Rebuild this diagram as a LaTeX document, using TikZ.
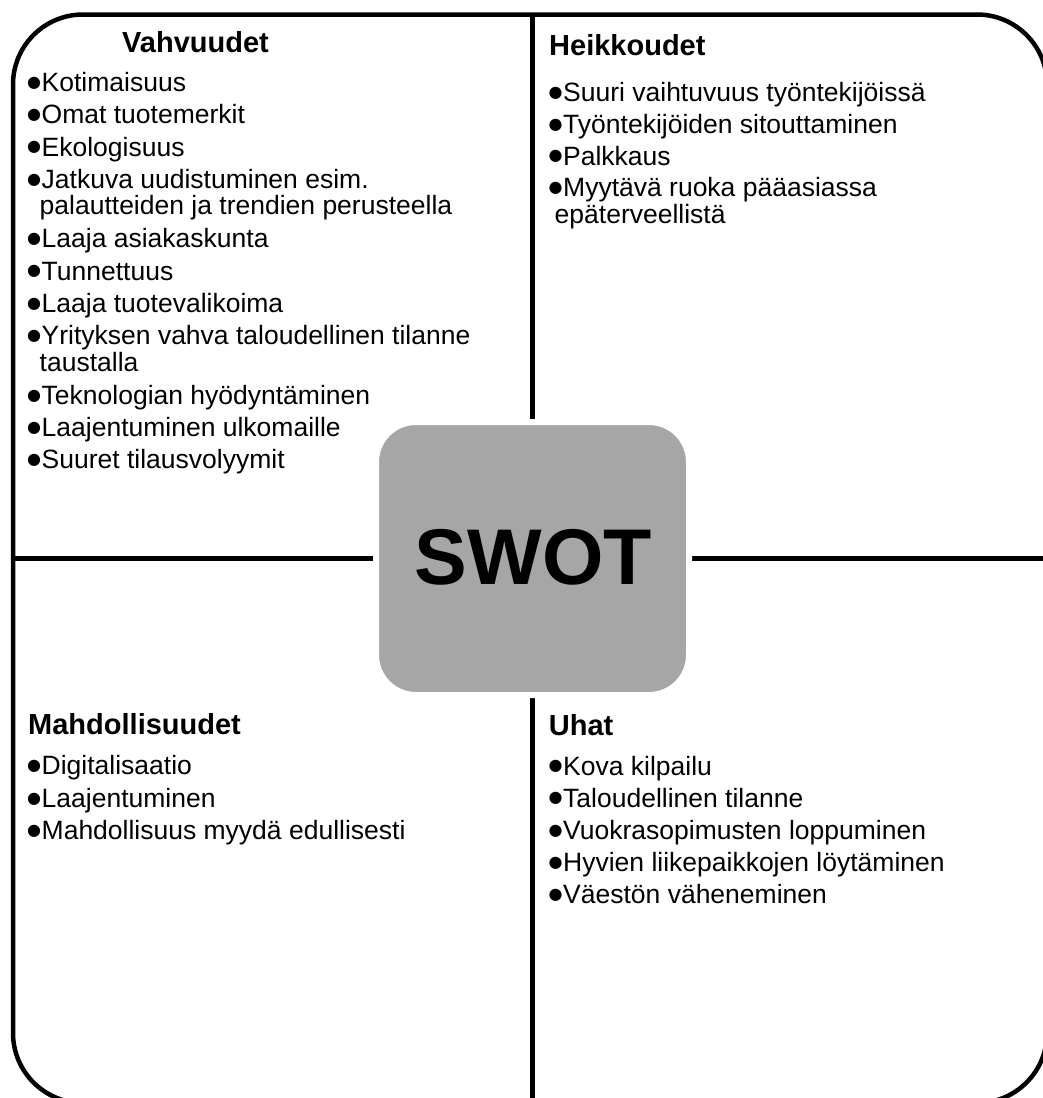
\documentclass[tikz,border=0pt]{standalone}
\usepackage{fontspec}
\setmainfont{Liberation Sans}
\newfontfamily\dejavu{DejaVu Sans}
\definecolor{swotgray}{RGB}{166,166,166}
\newcommand\bul{\makebox[14.5pt][l]{\raisebox{4.2pt}{\fontsize{16}{16}\dejavu ●}}}
\newcommand\ind{\hspace*{12.5pt}}
\begin{document}
\begin{tikzpicture}[x=1pt,y=-1pt,
  frame/.style={line width=4.5pt},
  divider/.style={line width=4.5pt},
  item/.style={anchor=base west,inner sep=0pt,font=\fontsize{26.5}{30}\selectfont},
  head/.style={anchor=base west,inner sep=0pt,font=\fontsize{29}{33}\selectfont\bfseries},
  swotbox/.style={draw=white,line width=6pt,fill=swotgray,rounded corners=40pt,minimum width=313pt,minimum height=273pt,inner sep=0pt}]
\useasboundingbox (0,0) rectangle (1043,1098);
\begin{scope}
\clip (0,0) rectangle (1043,1098);
\draw[frame,rounded corners=70pt] (13,14.5) rectangle (1047,1103);
\coordinate (dtop) at (532.5,14.5);
\coordinate (dbot) at (532.5,1103);
\coordinate (dleft) at (13,558.3);
\coordinate (dright) at (1047,558.3);
\draw[divider] (dtop) -- (dbot);
\draw[divider] (dleft) -- (dright);
\end{scope}
\node[swotbox] (swot) at (532.5,558.5) {};
\node[anchor=base,inner sep=0pt,font=\fontsize{79}{80}\selectfont\bfseries] (swottext) at (533.3,584) {SWOT};
% Vahvuudet
\node[head,anchor=base] (vt) at (195.5,52.5) {Vahvuudet};
\node[item] (v1) at (27,91.5) {\bul Kotimaisuus};
\node[item] (v2) at (27,123.8) {\bul Omat tuotemerkit};
\node[item] (v3) at (27,156.1) {\bul Ekologisuus};
\node[item] (v4) at (27,188.4) {\bul Jatkuva uudistuminen esim.};
\node[item] (v4b) at (27,214.4) {\ind palautteiden ja trendien perusteella};
\node[item] (v5) at (27,247.7) {\bul Laaja asiakaskunta};
\node[item] (v6) at (27,280) {\bul Tunnettuus};
\node[item] (v7) at (27,312.3) {\bul Laaja tuotevalikoima};
\node[item] (v8) at (27,344.2) {\bul Yrityksen vahva taloudellinen tilanne};
\node[item] (v8b) at (27,371.8) {\ind taustalla};
\node[item] (v9) at (27,404.5) {\bul Teknologian hyödyntäminen};
\node[item] (v10) at (27,436.6) {\bul Laajentuminen ulkomaille};
\node[item] (v11) at (27,468.5) {\bul Suuret tilausvolyymit};
% Heikkoudet
\node[head] (ht) at (549,55) {Heikkoudet};
\node[item] (h1) at (548.5,101.7) {\bul Suuri vaihtuvuus työntekijöissä};
\node[item] (h2) at (548.5,133.4) {\bul Työntekijöiden sitouttaminen};
\node[item] (h3) at (548.5,165.1) {\bul Palkkaus};
\node[item] (h4) at (548.5,196.8) {\bul Myytävä ruoka pääasiassa};
\node[item] (h4b) at (548.5,223.4) {\hspace*{6pt}epäterveellistä};
% Mahdollisuudet
\node[head] (mt) at (28,734.3) {Mahdollisuudet};
\node[item] (m1) at (27,774.8) {\bul Digitalisaatio};
\node[item] (m2) at (27,807.3) {\bul Laajentuminen};
\node[item] (m3) at (27,839.8) {\bul Mahdollisuus myydä edullisesti};
% Uhat
\node[head] (ut) at (548.7,735) {Uhat};
\node[item] (u1) at (548.5,775) {\bul Kova kilpailu};
\node[item] (u2) at (548.5,807.1) {\bul Taloudellinen tilanne};
\node[item] (u3) at (548.5,839.2) {\bul Vuokrasopimusten loppuminen};
\node[item] (u4) at (548.5,871.3) {\bul Hyvien liikepaikkojen löytäminen};
\node[item] (u5) at (548.5,903.4) {\bul Väestön väheneminen};
\end{tikzpicture}
\end{document}
